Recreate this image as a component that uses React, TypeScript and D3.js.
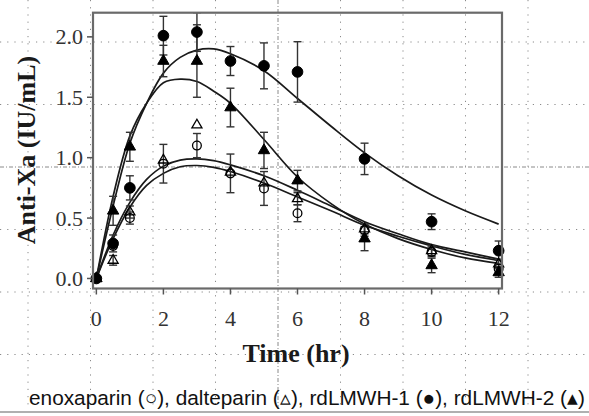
import React from "react";
import * as d3 from "d3";

// ---- data ----
const times = [0, 0.5, 1, 2, 3, 4, 5, 6, 8, 10, 12];

const enoxMean = [0, 0.27, 0.5, 0.95, 1.1, 0.87, 0.745, 0.54, 0.4, 0.22, 0.08];
const enoxErr = [0, 0, 0.05, 0.16, 0.1, 0.16, 0.14, 0.07, 0.05, 0.04, 0.04];

const daltMean = [0, 0.15, 0.55, 0.98, 1.27, 0.88, 0.79, 0.66, 0.41, 0.23, 0.12];
const daltErr = [0, 0.04, 0.05, 0, 0, 0, 0, 0.05, 0.04, 0.04, 0.04];

const rd1Mean = [0, 0.29, 0.75, 2.01, 2.04, 1.8, 1.76, 1.71, 0.99, 0.47, 0.23];
const rd1Err = [0, 0.07, 0.1, 0.16, 0.16, 0.12, 0.19, 0.25, 0.13, 0.065, 0.08];

const rd2Mean = [0, 0.56, 1.09, 1.8, 1.8, 1.415, 1.06, 0.81, 0.33, 0.108, 0.05];
const rd2Err = [0, 0.12, 0.12, 0.13, 0.3, 0.16, 0.15, 0.085, 0.1, 0.06, 0.04];

const fitTimes = [0, 0.5, 1, 1.5, 2, 2.5, 3, 3.5, 4, 5, 6, 7, 8, 9, 10, 11, 12];
const enoxFit = [0, 0.33, 0.59, 0.77, 0.87, 0.925, 0.935, 0.92, 0.885, 0.79, 0.675, 0.56, 0.44, 0.35, 0.27, 0.2, 0.15];
const daltFit = [0, 0.36, 0.63, 0.82, 0.93, 0.98, 0.99, 0.975, 0.94, 0.85, 0.73, 0.6, 0.47, 0.37, 0.28, 0.22, 0.16];
const rd1Fit = [0, 0.6, 1.12, 1.45, 1.7, 1.83, 1.89, 1.9, 1.86, 1.72, 1.49, 1.26, 1.04, 0.85, 0.69, 0.56, 0.45];
const rd2Fit = [0, 0.68, 1.18, 1.45, 1.62, 1.65, 1.63, 1.55, 1.45, 1.15, 0.84, 0.62, 0.45, 0.33, 0.24, 0.17, 0.125];

const xTicks = [0, 2, 4, 6, 8, 10, 12];
const yTicks = [0, 0.5, 1.0, 1.5, 2.0];

const xTitle = "Time (hr)";
const yTitle = "Anti-Xa (IU/mL)";
const legendText = "enoxaparin (\u25CB), dalteparin (\u25B5), rdLMWH-1 (\u25CF), rdLMWH-2 (\u25B4)";

// ---- layout ----
const W = 589;
const H = 416;
const x = d3.scaleLinear().domain([-0.1, 12.1]).range([93, 502]);
const y = d3.scaleLinear().domain([-0.083, 2.2]).range([288.5, 12.7]);

const line = d3
  .line<[number, number]>()
  .x((d) => x(d[0]))
  .y((d) => y(d[1]))
  .curve(d3.curveCatmullRom.alpha(0.5));

type Series = {
  key: string;
  mean: number[];
  err: number[];
  fit: number[];
  shape: "circle" | "triangle";
  filled: boolean;
};

const series: Series[] = [
  { key: "enox", mean: enoxMean, err: enoxErr, fit: enoxFit, shape: "circle", filled: false },
  { key: "dalt", mean: daltMean, err: daltErr, fit: daltFit, shape: "triangle", filled: false },
  { key: "rd1", mean: rd1Mean, err: rd1Err, fit: rd1Fit, shape: "circle", filled: true },
  { key: "rd2", mean: rd2Mean, err: rd2Err, fit: rd2Fit, shape: "triangle", filled: true },
];

function symbolPath(shape: string, filled: boolean) {
  if (shape === "circle") {
    return d3.symbol(d3.symbolCircle, filled ? 90 : 60)()!;
  }
  return d3.symbol(d3.symbolTriangle, filled ? 56 : 44)()!;
}

const gridXs = d3.range(9).map((i) => 28 + i * 62.5);
const gridYs = d3.range(6).map((i) => 42 + i * 62.5);

export default function App() {
  const ink = "#1a1a1a";
  return (
    <div style={{ position: "fixed", left: 0, top: 0, width: W, height: H, background: "#fff" }}>
      <svg width={W} height={H} style={{ display: "block" }}>
        <rect x={0} y={0} width={W} height={H} fill="#fff" />
        {/* document grid */}
        {gridXs.map((gx, i) => (
          <line
            key={"gx" + i}
            x1={gx}
            x2={gx}
            y1={0}
            y2={410}
            stroke="#8a8a8a"
            strokeWidth={1}
            strokeDasharray={i === 4 ? "4 2 1 2" : "1.2 6"}
          />
        ))}
        {gridYs.map((gy, i) => (
          <line
            key={"gy" + i}
            x1={0}
            x2={W}
            y1={gy}
            y2={gy}
            stroke="#8a8a8a"
            strokeWidth={1}
            strokeDasharray={i === 2 ? "4 2 1 2" : "1.2 6"}
          />
        ))}

        {/* fitted curves */}
        {series.map((s) => (
          <path
            key={"fit" + s.key}
            d={line(fitTimes.map((t, i) => [t, s.fit[i]] as [number, number])) || ""}
            fill="none"
            stroke={ink}
            strokeWidth={1.7}
          />
        ))}

        {/* error bars */}
        {series.map((s) =>
          times.map((t, i) =>
            s.err[i] > 0 ? (
              <g key={"e" + s.key + i} stroke="#333" strokeWidth={1.4}>
                <line x1={x(t)} x2={x(t)} y1={y(Math.min(2.2, s.mean[i] + s.err[i]))} y2={y(s.mean[i] - s.err[i])} />
                {s.mean[i] + s.err[i] <= 2.2 && (
                  <line x1={x(t) - 4} x2={x(t) + 4} y1={y(s.mean[i] + s.err[i])} y2={y(s.mean[i] + s.err[i])} />
                )}
                <line x1={x(t) - 4} x2={x(t) + 4} y1={y(s.mean[i] - s.err[i])} y2={y(s.mean[i] - s.err[i])} />
              </g>
            ) : null
          )
        )}

        {/* markers */}
        {series.map((s) =>
          times.map((t, i) => (
            <path
              key={"m" + s.key + i}
              d={symbolPath(s.shape, s.filled)}
              transform={`translate(${x(t)},${y(s.mean[i])})`}
              fill={s.filled ? "#000" : "none"}
              stroke="#000"
              strokeWidth={s.filled ? 1 : 1.3}
            />
          ))
        )}

        {/* frame */}
        <rect
          x={x(-0.1)}
          y={y(2.2)}
          width={x(12.1) - x(-0.1)}
          height={y(-0.083) - y(2.2)}
          fill="none"
          stroke="#6a6a6a"
          strokeWidth={2.2}
        />

        {/* y axis ticks + labels */}
        {yTicks.map((v) => (
          <g key={"yt" + v}>
            <line x1={x(-0.1) - 6} x2={x(-0.1)} y1={y(v)} y2={y(v)} stroke="#555" strokeWidth={1.5} />
            <text
              x={83}
              y={y(v)}
              textAnchor="end"
              dominantBaseline="central"
              fontFamily="'Liberation Serif', 'Times New Roman', serif"
              fontSize={22}
              fill="#333"
            >
              {d3.format(".1f")(v)}
            </text>
          </g>
        ))}

        {/* x axis ticks + labels */}
        {xTicks.map((v) => (
          <g key={"xt" + v}>
            <line x1={x(v)} x2={x(v)} y1={y(-0.083)} y2={y(-0.083) + 6} stroke="#555" strokeWidth={1.5} />
            <text
              x={x(v)}
              y={318}
              textAnchor="middle"
              dominantBaseline="central"
              fontFamily="'Liberation Serif', 'Times New Roman', serif"
              fontSize={22}
              fill="#333"
            >
              {v}
            </text>
          </g>
        ))}

        {/* titles */}
        <text
          transform={`translate(26,150) rotate(-90)`}
          textAnchor="middle"
          dominantBaseline="central"
          fontFamily="'Liberation Serif', 'Times New Roman', serif"
          fontWeight="bold"
          fontSize={26}
          fill="#1a1a1a"
        >
          {yTitle}
        </text>
        <text
          x={296}
          y={353}
          textAnchor="middle"
          dominantBaseline="central"
          fontFamily="'Liberation Serif', 'Times New Roman', serif"
          fontWeight="bold"
          fontSize={26}
          fill="#1a1a1a"
        >
          {xTitle}
        </text>

        {/* caption */}
        <text
          x={29}
          y={397}
          dominantBaseline="central"
          fontFamily="'Liberation Sans', Arial, sans-serif"
          fontSize={20.5}
          textLength={556}
          lengthAdjust="spacingAndGlyphs"
          fill="#111"
        >
          {legendText}
        </text>
        <line x1={0} x2={W} y1={412} y2={412} stroke="#b0b0b0" strokeWidth={2} />
      </svg>
    </div>
  );
}
